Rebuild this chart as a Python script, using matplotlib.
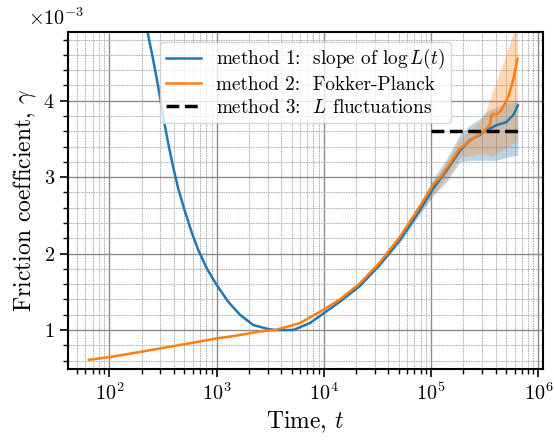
import numpy as np
import matplotlib
matplotlib.use("Agg")
import matplotlib.pyplot as plt

plt.rcParams['font.family'] = 'serif'
plt.rcParams['font.serif'] = ['cmr10', 'DejaVu Serif']
plt.rcParams['mathtext.fontset'] = 'cm'
plt.rcParams['axes.formatter.use_mathtext'] = True
plt.rcParams['axes.unicode_minus'] = False

# method 1: slope of log L(t)   (gamma in units of 1e-3)
t1 = 10 ** np.array([2.25, 2.354, 2.410, 2.457, 2.503, 2.550, 2.596, 2.643, 2.706, 2.768,
                     2.829, 2.908, 3.001, 3.109, 3.218, 3.342, 3.482, 3.545, 3.715, 3.87,
                     4.0, 4.15, 4.336, 4.52, 4.71, 4.865, 5.02, 5.145, 5.27, 5.36, 5.45,
                     5.50, 5.61, 5.70, 5.765, 5.81])
g1 = np.array([5.6, 4.92, 4.53, 4.18, 3.79, 3.44, 3.13, 2.85, 2.55, 2.28,
               2.05, 1.81, 1.59, 1.37, 1.20, 1.065, 1.013, 1.0, 1.0, 1.09,
               1.22, 1.37, 1.575, 1.85, 2.18, 2.50, 2.85, 3.09, 3.35, 3.48, 3.55,
               3.60, 3.68, 3.72, 3.81, 3.94])

# method 2: Fokker-Planck
t2 = 10 ** np.array([1.81, 2.0, 2.30, 2.6, 2.845, 3.0, 3.156, 3.40, 3.545, 3.777, 3.99,
                     4.15, 4.336, 4.52, 4.71, 4.865, 5.02, 5.098, 5.268, 5.44, 5.485,
                     5.548, 5.564, 5.585, 5.61, 5.657, 5.72, 5.765, 5.806])
g2 = np.array([0.61, 0.645, 0.716, 0.79, 0.85, 0.89, 0.92, 0.98, 1.0, 1.09, 1.26,
               1.40, 1.61, 1.88, 2.22, 2.55, 2.90, 3.02, 3.375, 3.55, 3.59,
               3.68, 3.81, 3.83, 3.82, 3.88, 4.05, 4.27, 4.55])

# uncertainty bands
tb1 = 10 ** np.array([4.5, 4.71, 4.85, 5.02, 5.145, 5.27, 5.36, 5.45, 5.52, 5.61, 5.70, 5.81])
lo1 = np.array([1.80, 2.14, 2.42, 2.76, 2.94, 3.20, 3.22, 3.22, 3.22, 3.22, 3.26, 3.29])
hi1 = np.array([1.84, 2.22, 2.54, 2.98, 3.24, 3.56, 3.68, 3.76, 3.86, 3.92, 3.97, 3.99])

tb2 = 10 ** np.array([4.5, 4.71, 4.85, 4.99, 5.145, 5.27, 5.36, 5.45, 5.52, 5.564, 5.657,
                      5.72, 5.765, 5.806])
lo2 = np.array([1.82, 2.19, 2.45, 2.72, 3.00, 3.26, 3.28, 3.31, 3.30, 3.27, 3.35, 3.40, 3.44, 3.48])
hi2 = np.array([1.86, 2.25, 2.55, 2.86, 3.20, 3.50, 3.62, 3.72, 3.90, 4.09, 4.44, 4.70, 4.88, 5.3])

# method 3: L fluctuations
t3 = [1e5, 6.8e5]
g3 = 3.6

fig = plt.figure(figsize=(5.54, 4.4), dpi=100)
ax = fig.add_axes([0.1227, 0.1614, 0.8575, 0.7659])

ax.fill_between(tb1, lo1 * 1e-3, hi1 * 1e-3, color='C0', alpha=0.3, lw=0)
ax.fill_between(tb2, lo2 * 1e-3, hi2 * 1e-3, color='C1', alpha=0.3, lw=0)
ax.plot(t1, g1 * 1e-3, color='C0', lw=1.8, label=r'method 1:  slope of $\log L(t)$')
ax.plot(t2, g2 * 1e-3, color='C1', lw=1.8, label='method 2:  Fokker-Planck')
ax.plot(t3, [g3 * 1e-3, g3 * 1e-3], color='k', ls='--', lw=2.5, label=r'method 3:  $L$ fluctuations')

ax.set_xscale('log')
ax.set_xlim(10 ** 1.615, 10 ** 6.044)
ax.set_ylim(0.49e-3, 4.9e-3)
ax.set_yticks([1e-3, 2e-3, 3e-3, 4e-3])
ax.ticklabel_format(axis='y', style='sci', scilimits=(0, 0))
ax.yaxis.set_minor_locator(matplotlib.ticker.MultipleLocator(0.2e-3))
# offset text placed by hand so it sits where the reference has it
ax.yaxis.get_offset_text().set_visible(False)
fig.text(0.0505, 0.943, r'$\times\mathdefault{10^{-3}}$', fontsize=14.5,
         ha='left', va='baseline')

ax.grid(True, which='major', color='0.55', lw=1.0)
ax.grid(True, which='minor', color='0.65', ls=(0, (2, 1)), lw=0.6)
ax.set_axisbelow(True)
ax.tick_params(which='major', direction='out', length=6, width=1.2, labelsize=14.5)
ax.tick_params(which='minor', direction='out', length=3.5, width=1.0)
for s in ax.spines.values():
    s.set_linewidth(1.5)

ax.set_xlabel(r'Time, $t$', fontsize=17)
ax.set_ylabel(r'Friction coefficient, $\gamma$', fontsize=17)
ax.legend(loc='upper center', fontsize=13.8, handlelength=1.8,
          labelspacing=0.25, borderpad=0.3)

fig.savefig('out.png', dpi=100)
